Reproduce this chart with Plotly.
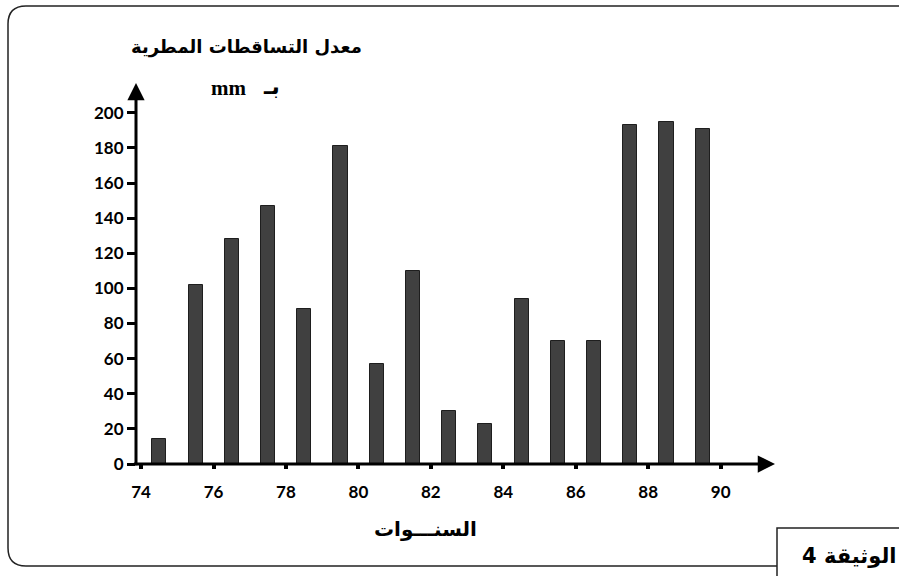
import plotly.graph_objects as go

W, H = 899, 576

years = [74, 75, 76, 77, 78, 79, 80, 81, 82, 83, 84, 85, 86, 87, 88, 89]
rain_mm = [14, 102, 128, 147, 88, 181, 57, 110, 30, 23, 94, 70, 70, 193, 195, 191]
x_ticks = [74, 76, 78, 80, 82, 84, 86, 88, 90]
y_ticks = [0, 20, 40, 60, 80, 100, 120, 140, 160, 180, 200]

title_text = "معدل التساقطات المطرية"
unit_text = "بـ"
unit_latin = "mm"
x_title = "السنـــوات"
doc_label = "4 الوثيقة"

ARABIC_FONT = "DejaVu Sans"
NUM_FONT = "Lato"


def px(x):
    return x / W


def py(y):
    return 1 - y / H


X0, X1 = 136, 775
Y0, Y1 = 464, 83
xr = [73.86, 91.5]
yr = [0, 217]

fig = go.Figure()
fig.add_trace(go.Bar(
    x=years, y=rain_mm,
    width=0.39, offset=0.31,
    marker=dict(color="#404040", line=dict(color="#1e1e1e", width=1)),
    cliponaxis=False,
    hoverinfo="x+y",
))

fig.update_layout(
    width=W, height=H,
    margin=dict(l=0, r=0, t=0, b=0, autoexpand=False),
    paper_bgcolor="white", plot_bgcolor="white",
    showlegend=False,
    bargap=0,
    xaxis=dict(
        domain=[px(X0), px(X1)], range=xr, automargin=False,
        tickmode="array", tickvals=x_ticks, ticktext=[str(v) for v in x_ticks],
        ticks="outside", ticklen=4, tickwidth=3.5, tickcolor="black",
        showline=False, showgrid=False, zeroline=False,
        tickfont=dict(family=NUM_FONT, size=17, color="black", weight="bold"),
        ticklabelstandoff=9,
    ),
    yaxis=dict(
        domain=[py(Y0), py(Y1)], range=yr, automargin=False,
        tickmode="array", tickvals=y_ticks, ticktext=[str(v) for v in y_ticks],
        ticks="outside", ticklen=8, tickwidth=2.5, tickcolor="black",
        showline=False, showgrid=False, zeroline=False,
        tickfont=dict(family=NUM_FONT, size=17, color="black", weight="bold"),
    ),
)

# axes drawn as arrows
fig.add_annotation(x=xr[1], y=0, ax=xr[0] - 0.1, ay=0, xref="x", yref="y",
                   axref="x", ayref="y", text="", showarrow=True,
                   arrowhead=2, arrowsize=1.15, arrowwidth=3, arrowcolor="black", standoff=0)
fig.add_annotation(x=xr[0], y=yr[1], ax=xr[0], ay=-1.5, xref="x", yref="y",
                   axref="x", ayref="y", text="", showarrow=True,
                   arrowhead=2, arrowsize=1.15, arrowwidth=3, arrowcolor="black", standoff=0)

# frame with rounded left corners and the document tag box
L, T, B, R, r = 8, 6, 566, 905, 18
BOXL, BOXT = 777, 528
path = (f"M {px(R)},{py(T)} L {px(L + r)},{py(T)} "
        f"Q {px(L)},{py(T)} {px(L)},{py(T + r)} "
        f"L {px(L)},{py(B - r)} "
        f"Q {px(L)},{py(B)} {px(L + r)},{py(B)} "
        f"L {px(BOXL)},{py(B)}")
fig.add_shape(type="path", path=path, xref="paper", yref="paper",
              line=dict(color="#222222", width=1.5))
fig.add_shape(type="rect", x0=px(BOXL), x1=px(R), y0=py(BOXT), y1=py(H + 5),
              xref="paper", yref="paper", line=dict(color="#222222", width=1.5),
              fillcolor="white")


def label(x, y, text, size, family=ARABIC_FONT):
    fig.add_annotation(x=px(x), y=py(y), xref="paper", yref="paper", text=text,
                       xanchor="center", yanchor="middle", showarrow=False,
                       font=dict(family=family, size=size, color="black", weight="bold"))


label(246, 47, title_text, 18)
label(228, 88, unit_latin, 21, "Liberation Serif")
label(271, 87, unit_text, 22)
label(425, 529, x_title, 20)
label(849, 556, doc_label, 21)

fig.write_html("out.html", config={"displayModeBar": False},
               post_script="document.body.style.margin='0';")
